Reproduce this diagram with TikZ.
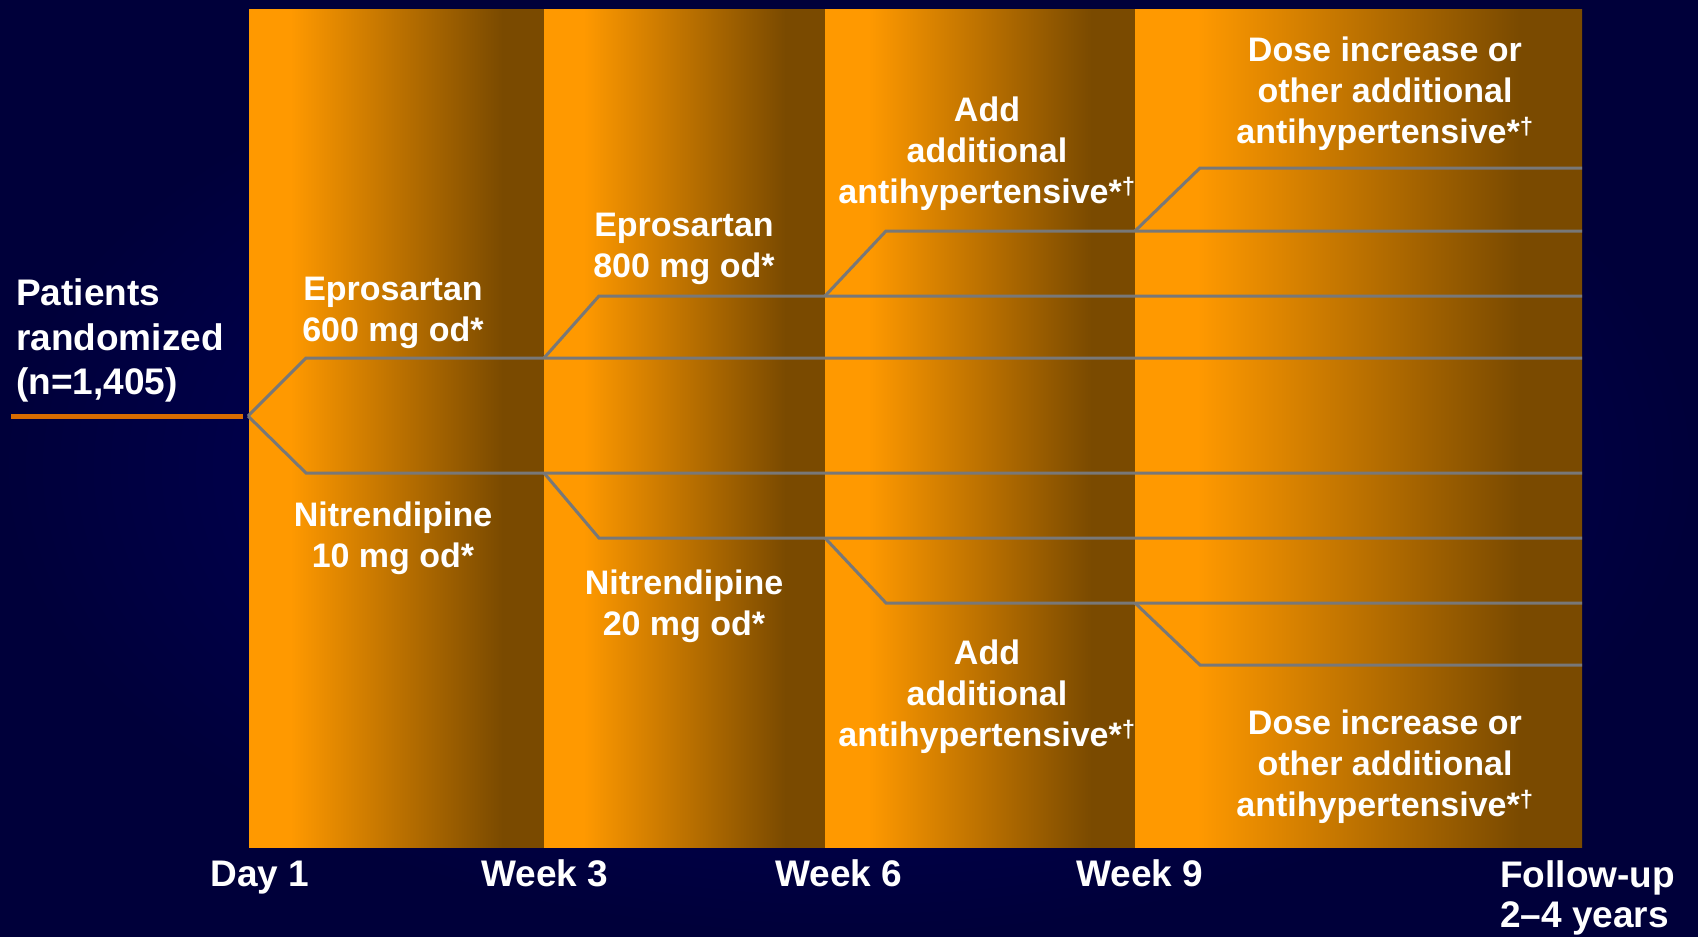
\documentclass[tikz,border=0pt]{standalone}
\usepackage{fontspec}
\setmainfont{Liberation Sans}
\usetikzlibrary{positioning}
\definecolor{navydark}{RGB}{0,0,58}
\definecolor{navylight}{RGB}{0,0,108}
\definecolor{phaseorange}{RGB}{255,153,0}
\definecolor{phasebrown}{RGB}{122,74,0}
\definecolor{trackgray}{RGB}{120,120,120}
\definecolor{leadorange}{RGB}{217,108,0}
\pgfdeclarehorizontalshading{phaseshade}{100bp}{color(0bp)=(phaseorange); color(32bp)=(phaseorange); color(68bp)=(phasebrown); color(100bp)=(phasebrown)}
\tikzset{phase/.style={shading=phaseshade,draw=none}}
\tikzset{track/.style={draw=trackgray,line width=3pt,line join=miter}}
\tikzset{leadline/.style={draw=leadorange,line width=5pt}}
\tikzset{druglbl/.style={text=white,font=\fontsize{34}{41}\selectfont\bfseries,
align=center,inner sep=0pt,anchor=north}}
\tikzset{timelbl/.style={text=white,font=\fontsize{37}{40}\selectfont\bfseries,
inner sep=0pt,anchor=base}}

\begin{document}
\begin{tikzpicture}[x=1pt,y=-1pt]

    \useasboundingbox (0,0) rectangle (1698,937);
    \shade[inner color=navylight,outer color=navydark] (0,0) rectangle (1698,937);

    % treatment phases
    \shade[phase] (249,9) rectangle (544,847);
    \shade[phase] (544,9) rectangle (825,847);
    \shade[phase] (825,9) rectangle (1135,847);
    \shade[phase] (1135,9) rectangle (1582,847);

    \coordinate (lead0) at (11,416);
    \coordinate (start) at (248,416);

    \coordinate (u1a) at (306,358);
    \coordinate (u1b) at (1582,358);
    \coordinate (u2s) at (544,358);
    \coordinate (u2a) at (599,296);
    \coordinate (u2b) at (1582,296);
    \coordinate (u3s) at (825,296);
    \coordinate (u3a) at (886,231);
    \coordinate (u3b) at (1582,231);
    \coordinate (u4s) at (1135,231);
    \coordinate (u4a) at (1200,168);
    \coordinate (u4b) at (1582,168);

    \coordinate (l1a) at (306,473);
    \coordinate (l1b) at (1582,473);
    \coordinate (l2s) at (544,473);
    \coordinate (l2a) at (599,538);
    \coordinate (l2b) at (1582,538);
    \coordinate (l3s) at (825,538);
    \coordinate (l3a) at (886,603);
    \coordinate (l3b) at (1582,603);
    \coordinate (l4s) at (1135,603);
    \coordinate (l4a) at (1200,665);
    \coordinate (l4b) at (1582,665);

    \draw[leadline] (lead0) -- ([xshift=-5pt]start);

    \draw[track] (start) -- (u1a) -- (u1b);
    \draw[track] (u2s) -- (u2a) -- (u2b);
    \draw[track] (u3s) -- (u3a) -- (u3b);
    \draw[track] (u4s) -- (u4a) -- (u4b);
    \draw[track] (start) -- (l1a) -- (l1b);
    \draw[track] (l2s) -- (l2a) -- (l2b);
    \draw[track] (l3s) -- (l3a) -- (l3b);
    \draw[track] (l4s) -- (l4a) -- (l4b);

    \node[text=white,font=\fontsize{37}{44.5}\selectfont\bfseries,align=left,
        inner sep=0pt,anchor=north west] (patients) at (16,278.5)
        {Patients\\randomized\\(n=1,405)};

    \node[druglbl] (epro600) at (393,277) {Eprosartan\\600 mg od*};
    \node[druglbl] (nitr10) at (393,502) {Nitrendipine\\10 mg od*};
    \node[druglbl] (epro800) at (684,213) {Eprosartan\\800 mg od*};
    \node[druglbl] (nitr20) at (684,570) {Nitrendipine\\20 mg od*};
    \node[druglbl] (addup) at (987,97) {Add\\additional\\antihypertensive*\textsuperscript{†}};
    \node[druglbl] (adddown) at (987,640) {Add\\additional\\antihypertensive*\textsuperscript{†}};
    \node[druglbl] (doseup) at (1385,37) {Dose increase or\\other additional\\antihypertensive*\textsuperscript{†}};
    \node[druglbl] (dosedown) at (1385,710) {Dose increase or\\other additional\\antihypertensive*\textsuperscript{†}};

    \node[timelbl] (day1) at (260,886) {Day 1};
    \node[timelbl] (week3) at (545,886) {Week 3};
    \node[timelbl] (week6) at (839,886) {Week 6};
    \node[timelbl] (week9) at (1140,886) {Week 9};
    \node[timelbl,align=left,anchor=north west] (followup) at (1500,860.5) {Follow-up\\2–4 years};

\end{tikzpicture}
\end{document}
